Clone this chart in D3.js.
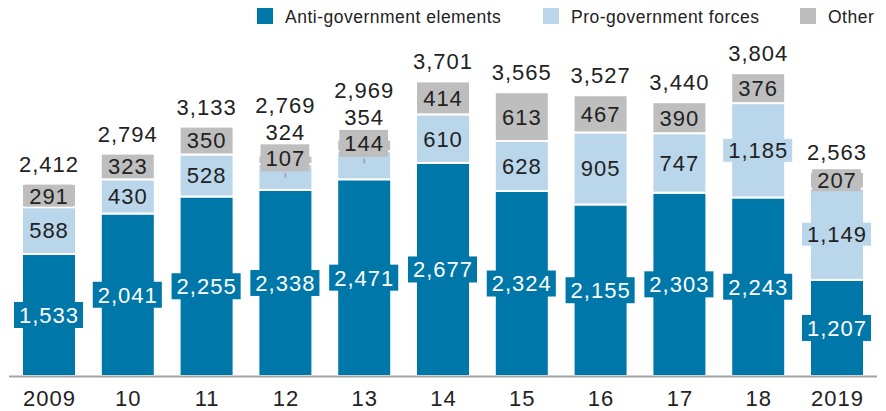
<!DOCTYPE html>
<html><head><meta charset="utf-8">
<script src="https://cdn.jsdelivr.net/npm/d3@7"></script>
<style>
html,body{margin:0;padding:0;background:#fff;}
svg{display:block;font-family:"Liberation Sans",Arial,Helvetica,sans-serif;}
</style></head>
<body><svg id="c" width="886" height="411"></svg>
<script>
const categories = ["2009","10","11","12","13","14","15","16","17","18","2019"];
const antiGov = [1533,2041,2255,2338,2471,2677,2324,2155,2303,2243,1207];
const proGov  = [588,430,528,324,354,610,628,905,747,1185,1149];
const other   = [291,323,350,107,144,414,613,467,390,376,207];
const totals  = [2412,2794,3133,2769,2969,3701,3565,3527,3440,3804,2563];
const seriesNames = ["Anti-government elements","Pro-government forces","Other"];
const colors = ["#0077a9","#bad6ea","#bebebf"];

const svg = d3.select("#c");
const fmt = d3.format(",");
const x = d3.scalePoint().domain(categories).range([49,837]);
const y = d3.scaleLinear().domain([0,4000]).range([376,57.6]);
const barW = 54;

const rows = categories.map((c,i)=>({cat:c, v:[antiGov[i],proGov[i],other[i]], total:totals[i]}));
const stack = d3.stack().keys([0,1,2]).value((d,k)=>d.v[k]);
const layers = stack(rows);

// bars
const gBars = svg.append("g");
layers.forEach((layer,k)=>{
  gBars.selectAll(null).data(layer).enter().append("rect")
    .attr("x", d=>x(d.data.cat)-barW/2)
    .attr("y", d=>y(d[1]))
    .attr("width", barW)
    .attr("height", d=>Math.max(0,y(d[0])-y(d[1])))
    .attr("fill", colors[k])
    .attr("stroke","#fff").attr("stroke-width",2);
});

// axis
const axisG = svg.append("g").attr("transform","translate(0,376)")
  .call(d3.axisBottom(x).tickSize(0).tickPadding(0));
axisG.select(".domain").remove();
axisG.selectAll("text").attr("y",30).attr("dy",null)
  .style("font-size","22px").style("letter-spacing","1px").attr("fill","#222")
  .style("font-family","'Liberation Sans',Arial,sans-serif");
svg.append("line").attr("x1",9).attr("x2",877).attr("y1",376.5).attr("y2",376.5)
  .attr("stroke","#a3a3a3").attr("stroke-width",2);

// labels
const gLab = svg.append("g").style("font-size","22px").style("letter-spacing","1px");
function boxLabel(cx, cy, txt, fill, color, box, h){
  const g = gLab.append("g");
  const t = g.append("text").attr("x",cx).attr("y",cy).attr("dy","0.36em")
    .attr("text-anchor","middle").attr("fill",color).text(txt);
  if(box){
    const w = t.node().getComputedTextLength();
    g.insert("rect","text").attr("x",cx-w/2-5).attr("y",cy-h/2).attr("width",w+9).attr("height",h).attr("fill",fill);
  }
  return g;
}
rows.forEach((r,i)=>{
  const cx = x(r.cat);
  const centers = [0,1,2].map(k=>(y(layers[k][i][0])+y(layers[k][i][1]))/2);
  const top = y(layers[2][i][1]);
  let pgfC = centers[1];
  const displaced = (centers[1]-centers[2]) < 26;
  boxLabel(cx, centers[0], fmt(r.v[0]), colors[0], "#fff", true, 26);
  let totalC = top - 20;
  if(displaced){
    pgfC = centers[2]-28;
    gLab.append("line").attr("x1",cx).attr("x2",cx)
      .attr("y1",centers[2]+13).attr("y2",centers[2]+18)
      .attr("stroke","#a8a8a8").attr("stroke-width",2);
    boxLabel(cx, pgfC, fmt(r.v[1]), "none", "#222", false);
    boxLabel(cx, centers[2]-2, fmt(r.v[2]), colors[2], "#222", true, 27);
    totalC = pgfC - 27;
  } else {
    boxLabel(cx, pgfC, fmt(r.v[1]), colors[1], "#222", true, 23);
    boxLabel(cx, centers[2], fmt(r.v[2]), colors[2], "#222", true, 22);
  }
  boxLabel(cx, totalC, fmt(r.total), "none", "#222", false);
});

// legend
const legX = [257,543,800];
const leg = svg.append("g");
seriesNames.forEach((n,k)=>{
  leg.append("rect").attr("x",legX[k]).attr("y",8).attr("width",16).attr("height",16).attr("fill",colors[k]);
  leg.append("text").attr("x",legX[k]+28).attr("y",22.5).text(n)
    .style("font-size","17.5px").style("letter-spacing","0.5px").attr("fill","#222");
});
</script></body></html>
